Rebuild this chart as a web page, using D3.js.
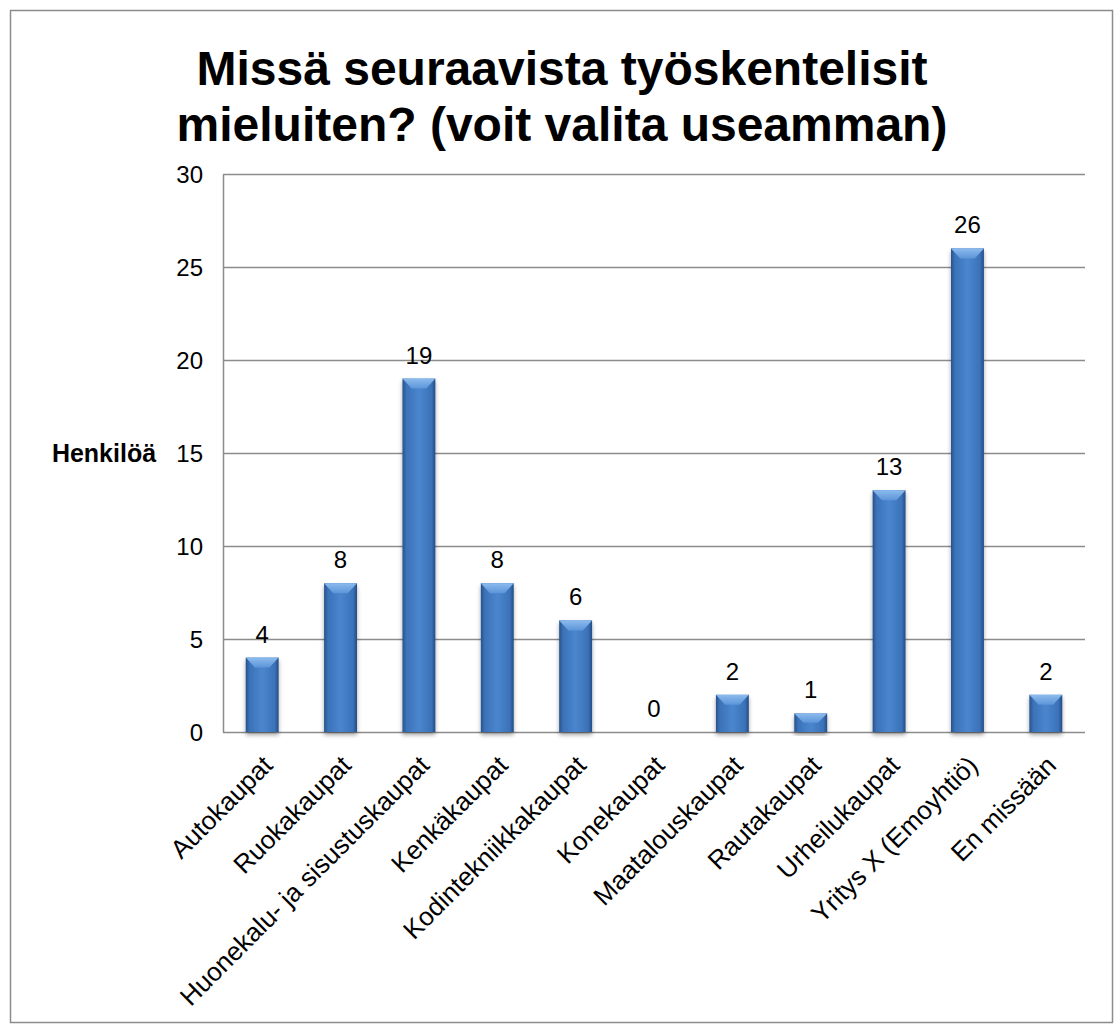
<!DOCTYPE html>
<html>
<head>
<meta charset="utf-8">
<script src="https://cdn.jsdelivr.net/npm/d3@7"></script>
<style>
  html, body { margin: 0; padding: 0; background: #fff; }
  svg { display: block; font-family: Arial, "Liberation Sans", sans-serif; }
</style>
</head>
<body>
<svg id="chart" width="1114" height="1024"></svg>
<script>
const categories = ["Autokaupat", "Ruokakaupat", "Huonekalu- ja sisustuskaupat", "Kenkäkaupat",
  "Kodintekniikkakaupat", "Konekaupat", "Maatalouskaupat", "Rautakaupat", "Urheilukaupat",
  "Yritys X (Emoyhtiö)", "En missään"];
const values = [4, 8, 19, 8, 6, 0, 2, 1, 13, 26, 2];
const yTicks = [0, 5, 10, 15, 20, 25, 30];
const titleLines = ["Missä seuraavista työskentelisit", "mieluiten? (voit valita useamman)"];
const yAxisTitle = "Henkilöä";

const svg = d3.select("#chart");
const W = 1114, H = 1024;
const plot = { left: 223, right: 1085, top: 174, bottom: 732 };
const FONT = "Arial, 'Liberation Sans', sans-serif";

// defs: gradients and shadow
const defs = svg.append("defs");
const g1 = defs.append("linearGradient").attr("id", "barGrad").attr("x1", "0").attr("x2", "1").attr("y1", "0").attr("y2", "0");
[[0, "#27528b"], [0.12, "#3b72b8"], [0.5, "#4a86ce"], [0.88, "#3b72b8"], [1, "#234d86"]]
  .forEach(([o, c]) => g1.append("stop").attr("offset", o).attr("stop-color", c));
const g2 = defs.append("linearGradient").attr("id", "topGrad").attr("x1", "0").attr("x2", "0").attr("y1", "0").attr("y2", "1");
[[0, "#8cbbee"], [1, "#5c95d8"]].forEach(([o, c]) => g2.append("stop").attr("offset", o).attr("stop-color", c));
const f = defs.append("filter").attr("id", "shadow").attr("x", "-30%").attr("y", "-10%").attr("width", "160%").attr("height", "130%");
f.append("feDropShadow").attr("dx", 0).attr("dy", 3).attr("stdDeviation", 2.2)
  .attr("flood-color", "#000").attr("flood-opacity", 0.35);

// outer border
svg.append("rect").attr("x", 10.5).attr("y", 10.5).attr("width", W - 12).attr("height", H - 12)
  .attr("fill", "#fff").attr("stroke", "#8c8c8c").attr("stroke-width", 1.5);

// title
svg.append("g").selectAll("text").data(titleLines).join("text")
  .attr("x", 562).attr("y", (d, i) => 85 + i * 56)
  .attr("text-anchor", "middle").attr("font-weight", "bold").attr("font-size", 48)
  .attr("fill", "#000").text(d => d);

const x = d3.scaleBand().domain(categories).range([plot.left, plot.right])
  .paddingInner(0.58).paddingOuter(0.29);
const y = d3.scaleLinear().domain([0, 30]).range([plot.bottom, plot.top]);

// gridlines
svg.append("g").selectAll("line").data(yTicks).join("line")
  .attr("x1", plot.left).attr("x2", plot.right)
  .attr("y1", d => Math.round(y(d)) + 0.5).attr("y2", d => Math.round(y(d)) + 0.5)
  .attr("stroke", "#8c8c8c").attr("stroke-width", 1.5);

// y axis
const yAxis = d3.axisLeft(y).tickValues(yTicks).tickSize(0).tickPadding(20);
const ya = svg.append("g").attr("transform", `translate(${plot.left},0)`).call(yAxis);
ya.attr("font-size", 24).attr("font-family", FONT);
ya.select(".domain").attr("stroke", "#8c8c8c").attr("stroke-width", 1.5);
ya.selectAll("text").attr("fill", "#000").attr("dy", "0.36em");

svg.append("text").attr("x", 104).attr("y", y(15) + 9).attr("text-anchor", "middle")
  .attr("font-weight", "bold").attr("font-size", 25).text(yAxisTitle);

// bars
const data = categories.map((c, i) => ({ c, v: values[i] }));
const bars = svg.append("g").selectAll("g").data(data.filter(d => d.v > 0))
  .join("g").attr("filter", "url(#shadow)");
bars.append("rect")
  .attr("x", d => x(d.c)).attr("y", d => y(d.v))
  .attr("width", x.bandwidth()).attr("height", d => y(0) - y(d.v))
  .attr("fill", "url(#barGrad)");
bars.append("path")
  .attr("d", d => {
    const x0 = x(d.c), w = x.bandwidth(), t = y(d.v), h = Math.min(10, (y(0) - y(d.v)) / 2), inset = w * 0.28;
    return `M${x0},${t} L${x0 + w},${t} L${x0 + w - inset},${t + h} L${x0 + inset},${t + h} Z`;
  })
  .attr("fill", "url(#topGrad)");

// value labels
svg.append("g").selectAll("text").data(data).join("text")
  .attr("x", d => x(d.c) + x.bandwidth() / 2).attr("y", d => y(d.v) - 15)
  .attr("text-anchor", "middle").attr("font-size", 24).attr("fill", "#000").text(d => d.v);

// x labels
svg.append("g").selectAll("text").data(categories).join("text")
  .attr("transform", d => `translate(${x(d) + x.bandwidth() / 2 + 12},${plot.bottom + 35}) rotate(-45)`)
  .attr("text-anchor", "end").attr("font-size", 26).attr("fill", "#000").text(d => d);
</script>
</body>
</html>
